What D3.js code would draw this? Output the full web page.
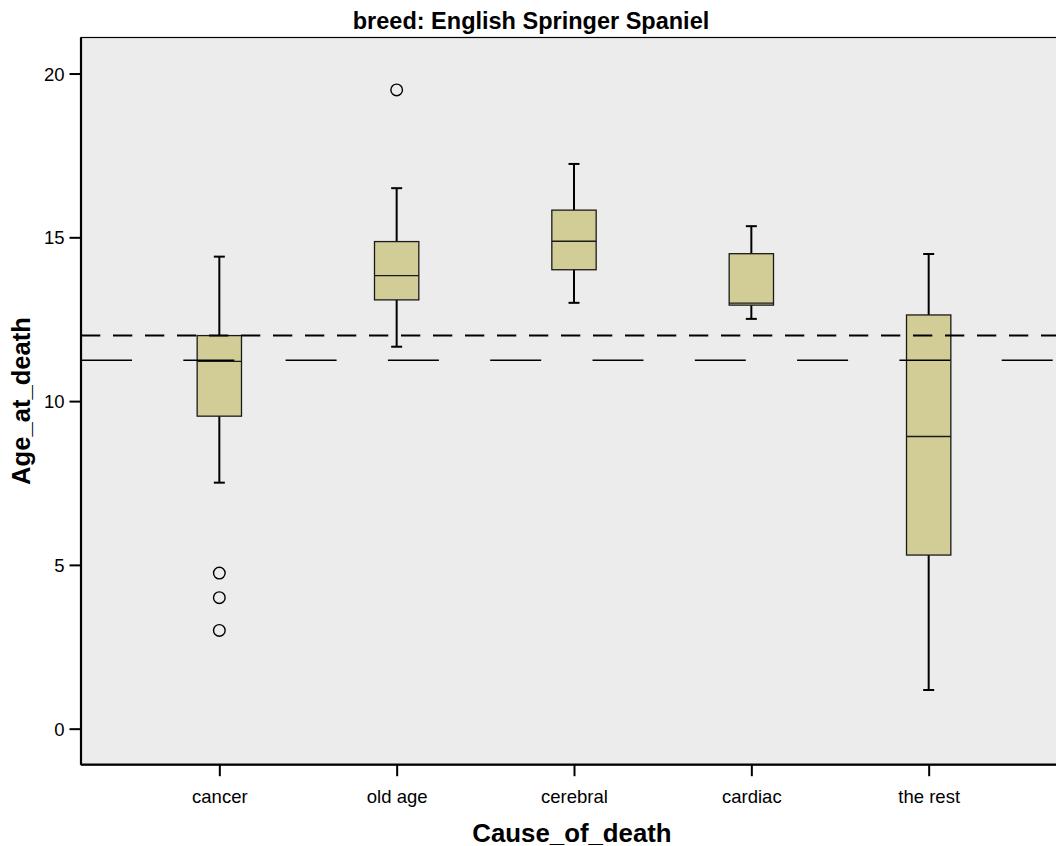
<!DOCTYPE html>
<html>
<head>
<meta charset="utf-8">
<script src="https://cdn.jsdelivr.net/npm/d3@7"></script>
<style>
body { margin:0; background:#fff; }
text { font-family: "Liberation Sans", Arial, sans-serif; }
</style>
</head>
<body>
<script>
var categories = ["cancer","old age","cerebral","cardiac","the rest"];
var lowWhisker = [7.51, 11.66, 13.0, 12.51, 1.18];
var q1 = [9.54, 13.09, 14.01, 12.93, 5.30];
var medians = [11.21, 13.83, 14.88, 12.99, 8.92];
var q3 = [12.0, 14.87, 15.83, 14.50, 12.63];
var highWhisker = [14.41, 16.50, 17.24, 15.34, 14.49];
var outliers = [[4.75, 4.0, 3.0], [19.5], [], [], []];
var yTicks = [0, 5, 10, 15, 20];
var meanLine = 12.0;
var medianLine = 11.25;

var width = 1056, height = 846;
var plotLeft = 81, plotRight = 1067, plotTop = 37.5, plotBottom = 764.7;

var svg = d3.select("body").append("svg").attr("width",width).attr("height",height);

var x = d3.scalePoint().domain(categories).range([plotLeft,plotRight]).padding(0.78);
var y = d3.scaleLinear().domain([-1.1,21.1]).range([plotBottom,plotTop]);
var boxW = x.step()*0.25;

//plot background
svg.append("rect").attr("x",plotLeft).attr("y",plotTop).attr("width",plotRight-plotLeft).attr("height",plotBottom-plotTop)
  .attr("fill","#ececec").attr("stroke","#000").attr("stroke-width",1.2);

//boxes
var g = svg.append("g");
categories.forEach(function(c,i){
  var cx = x(c);
  g.append("line").attr("x1",cx).attr("x2",cx).attr("y1",y(q3[i])).attr("y2",y(highWhisker[i]))
    .attr("stroke","#000").attr("stroke-width",2);
  g.append("line").attr("x1",cx).attr("x2",cx).attr("y1",y(q1[i])).attr("y2",y(lowWhisker[i]))
    .attr("stroke","#000").attr("stroke-width",2);
  g.append("line").attr("x1",cx-5.5).attr("x2",cx+5.5).attr("y1",y(highWhisker[i])).attr("y2",y(highWhisker[i]))
    .attr("stroke","#000").attr("stroke-width",2);
  g.append("line").attr("x1",cx-5.5).attr("x2",cx+5.5).attr("y1",y(lowWhisker[i])).attr("y2",y(lowWhisker[i]))
    .attr("stroke","#000").attr("stroke-width",2);
  g.append("rect").attr("x",cx-boxW/2).attr("y",y(q3[i])).attr("width",boxW).attr("height",y(q1[i])-y(q3[i]))
    .attr("fill","#d2cd96").attr("stroke","#1a1a1a").attr("stroke-width",1.3);
  g.append("line").attr("x1",cx-boxW/2).attr("x2",cx+boxW/2).attr("y1",y(medians[i])).attr("y2",y(medians[i]))
    .attr("stroke","#1a1a1a").attr("stroke-width",1.3);
  outliers[i].forEach(function(v){
    g.append("circle").attr("cx",cx).attr("cy",y(v)).attr("r",5.8)
      .attr("fill","none").attr("stroke","#000").attr("stroke-width",1.4);
  });
});

//reference lines
svg.append("line").attr("x1",plotLeft).attr("x2",plotRight).attr("y1",y(meanLine)).attr("y2",y(meanLine))
  .attr("stroke","#000").attr("stroke-width",2).attr("stroke-dasharray","19.3,12.7");
svg.append("line").attr("x1",plotLeft).attr("x2",plotRight).attr("y1",y(medianLine)).attr("y2",y(medianLine))
  .attr("stroke","#000").attr("stroke-width",1.5).attr("stroke-dasharray","51,51.3");

//axes
var yAxis = svg.append("g").attr("transform","translate("+plotLeft+",0)")
  .call(d3.axisLeft(y).tickValues(yTicks).tickSize(11.5).tickPadding(5));
var xAxis = svg.append("g").attr("transform","translate(0,"+plotBottom+")")
  .call(d3.axisBottom(x).tickSize(11.5).tickPadding(14));
[yAxis,xAxis].forEach(function(a){
  a.select(".domain").attr("stroke","#000").attr("stroke-width",2.2);
  a.selectAll(".tick line").attr("stroke","#000").attr("stroke-width",2);
  a.selectAll(".tick text").attr("fill","#000").attr("font-size","18.5px")
    .attr("font-family","'Liberation Sans', Arial, sans-serif");
});
yAxis.select(".domain").attr("d","M0,"+plotTop+"V"+plotBottom);
xAxis.select(".domain").attr("d","M"+plotLeft+",0H"+plotRight);
yAxis.selectAll(".tick text").attr("dy","0.36em");

//titles
svg.append("text").attr("x",531).attr("y",29.3).attr("text-anchor","middle")
  .attr("font-size","23.5px").attr("font-weight","bold").text("breed: English Springer Spaniel");
svg.append("text").attr("x",572).attr("y",841.7).attr("text-anchor","middle")
  .attr("font-size","25.8px").attr("font-weight","bold").text("Cause_of_death");
svg.append("text").attr("transform","translate(29.5,401) rotate(-90)").attr("text-anchor","middle")
  .attr("font-size","25.6px").attr("font-weight","bold").text("Age_at_death");
</script>
</body>
</html>
